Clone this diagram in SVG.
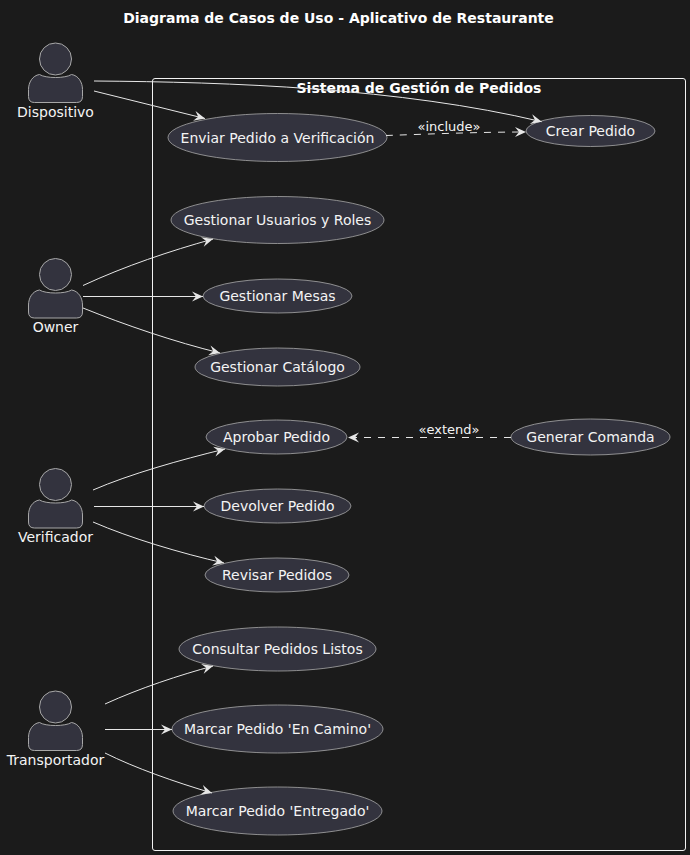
<svg xmlns="http://www.w3.org/2000/svg" width="690" height="855" viewBox="0 0 690 855">
<style>
text{font-family:"DejaVu Sans",sans-serif;font-size:14px;fill:#f4f4f4;text-anchor:middle}
.t{font-weight:bold;fill:#fff}
.s{font-size:13px}
.uc{fill:#33333e;stroke:#a8a8a8;stroke-width:.8}
.ac{fill:#33333e;stroke:#a8a8a8;stroke-width:1}
.c{fill:none;stroke:#e6e6e6;stroke-width:1;marker-end:url(#a)}
.d{stroke-dasharray:7 7}
</style>
<defs>
<marker id="a" markerUnits="userSpaceOnUse" markerWidth="14" markerHeight="12" refX="11.500" refY="6" orient="auto" viewBox="0 0 14 12">
<path d="M0.500,1 L11.500,6 L0.500,11 L4.500,6 Z" fill="#e6e6e6"/>
</marker>
<g id="p">
<circle class="ac" cx="0" cy="0" r="16"/>
<path class="ac" d="M-16,16 C-10,20 10,20 16,16 C23,17 27,24 27,31 V38 Q27,44 21,44 H-21 Q-27,44 -27,38 V31 C-27,24 -23,17 -16,16 Z" transform="translate(0,-0.5)"/>
</g>
</defs>
<rect width="690" height="855" fill="#1b1b1b"/>
<text class="t" x="338.500" y="23">Diagrama de Casos de Uso - Aplicativo de Restaurante</text>
<g id="sistema">
<rect x="152.500" y="78.500" width="533" height="772" rx="2.500" fill="none" stroke="#f2f2f2" stroke-width="1"/>
<text class="t" x="419" y="93">Sistema de Gestión de Pedidos</text>
</g>
<g id="actor-dispositivo"><use href="#p" x="55.500" y="59"/><text x="55.500" y="117">Dispositivo</text></g>
<g id="actor-owner"><use href="#p" x="55.500" y="274.500"/><text x="55.500" y="332">Owner</text></g>
<g id="actor-verificador"><use href="#p" x="55.500" y="484.500"/><text x="55.500" y="542">Verificador</text></g>
<g id="actor-transportador"><use href="#p" x="55.500" y="707"/><text x="55.500" y="765">Transportador</text></g>
<g id="uc-enviar"><ellipse class="uc" cx="277.500" cy="137.500" rx="109.500" ry="24"/><text x="277.500" y="142.500">Enviar Pedido a Verificación</text></g>
<g id="uc-crear"><ellipse class="uc" cx="590.500" cy="131" rx="64.500" ry="15.500"/><text x="590.500" y="136">Crear Pedido</text></g>
<g id="uc-usuarios"><ellipse class="uc" cx="277.500" cy="220" rx="106.500" ry="23.500"/><text x="277.500" y="225">Gestionar Usuarios y Roles</text></g>
<g id="uc-mesas"><ellipse class="uc" cx="277.500" cy="296" rx="74.500" ry="17"/><text x="277.500" y="301">Gestionar Mesas</text></g>
<g id="uc-catalogo"><ellipse class="uc" cx="277.500" cy="367" rx="82.500" ry="19"/><text x="277.500" y="372">Gestionar Catálogo</text></g>
<g id="uc-aprobar"><ellipse class="uc" cx="276.500" cy="437" rx="70.500" ry="17"/><text x="276.500" y="442">Aprobar Pedido</text></g>
<g id="uc-comanda"><ellipse class="uc" cx="590.500" cy="437" rx="79.500" ry="18"/><text x="590.500" y="442">Generar Comanda</text></g>
<g id="uc-devolver"><ellipse class="uc" cx="277.500" cy="506" rx="73.500" ry="17"/><text x="277.500" y="511">Devolver Pedido</text></g>
<g id="uc-revisar"><ellipse class="uc" cx="277" cy="575" rx="72" ry="17"/><text x="277" y="580">Revisar Pedidos</text></g>
<g id="uc-consultar"><ellipse class="uc" cx="277.500" cy="649" rx="98.500" ry="22"/><text x="277.500" y="654">Consultar Pedidos Listos</text></g>
<g id="uc-camino"><ellipse class="uc" cx="277.500" cy="729" rx="105.500" ry="24"/><text x="277.500" y="734">Marcar Pedido 'En Camino'</text></g>
<g id="uc-entregado"><ellipse class="uc" cx="277.500" cy="811" rx="104.500" ry="24"/><text x="277.500" y="816">Marcar Pedido 'Entregado'</text></g>
<g id="connectors">
<path class="c" d="M94,81 C230,82 400,88 541.700,121.700"/>
<path class="c" d="M94,91 L205,118.500"/>
<path class="c d" d="M386,135.500 C430,134 480,132 526,132"/>
<text class="s" x="449" y="131">«include»</text>
<path class="c" d="M83,285.500 C125,266 170,251 213,239"/>
<path class="c" d="M83,296.500 H203"/>
<path class="c" d="M83,308 C125,325 175,342 220,353"/>
<path class="c" d="M93,490 C130,474 180,460 225,449"/>
<path class="c" d="M94,506.500 H204"/>
<path class="c" d="M93,522 C130,538 180,553 224,563"/>
<path class="c d" d="M511,437.500 H348"/>
<text class="s" x="449" y="434">«extend»</text>
<path class="c" d="M105,704 C140,688 180,675 213,666"/>
<path class="c" d="M105,729.500 H172"/>
<path class="c" d="M105,753 C135,768 175,782 212,793"/>
</g>
</svg>
